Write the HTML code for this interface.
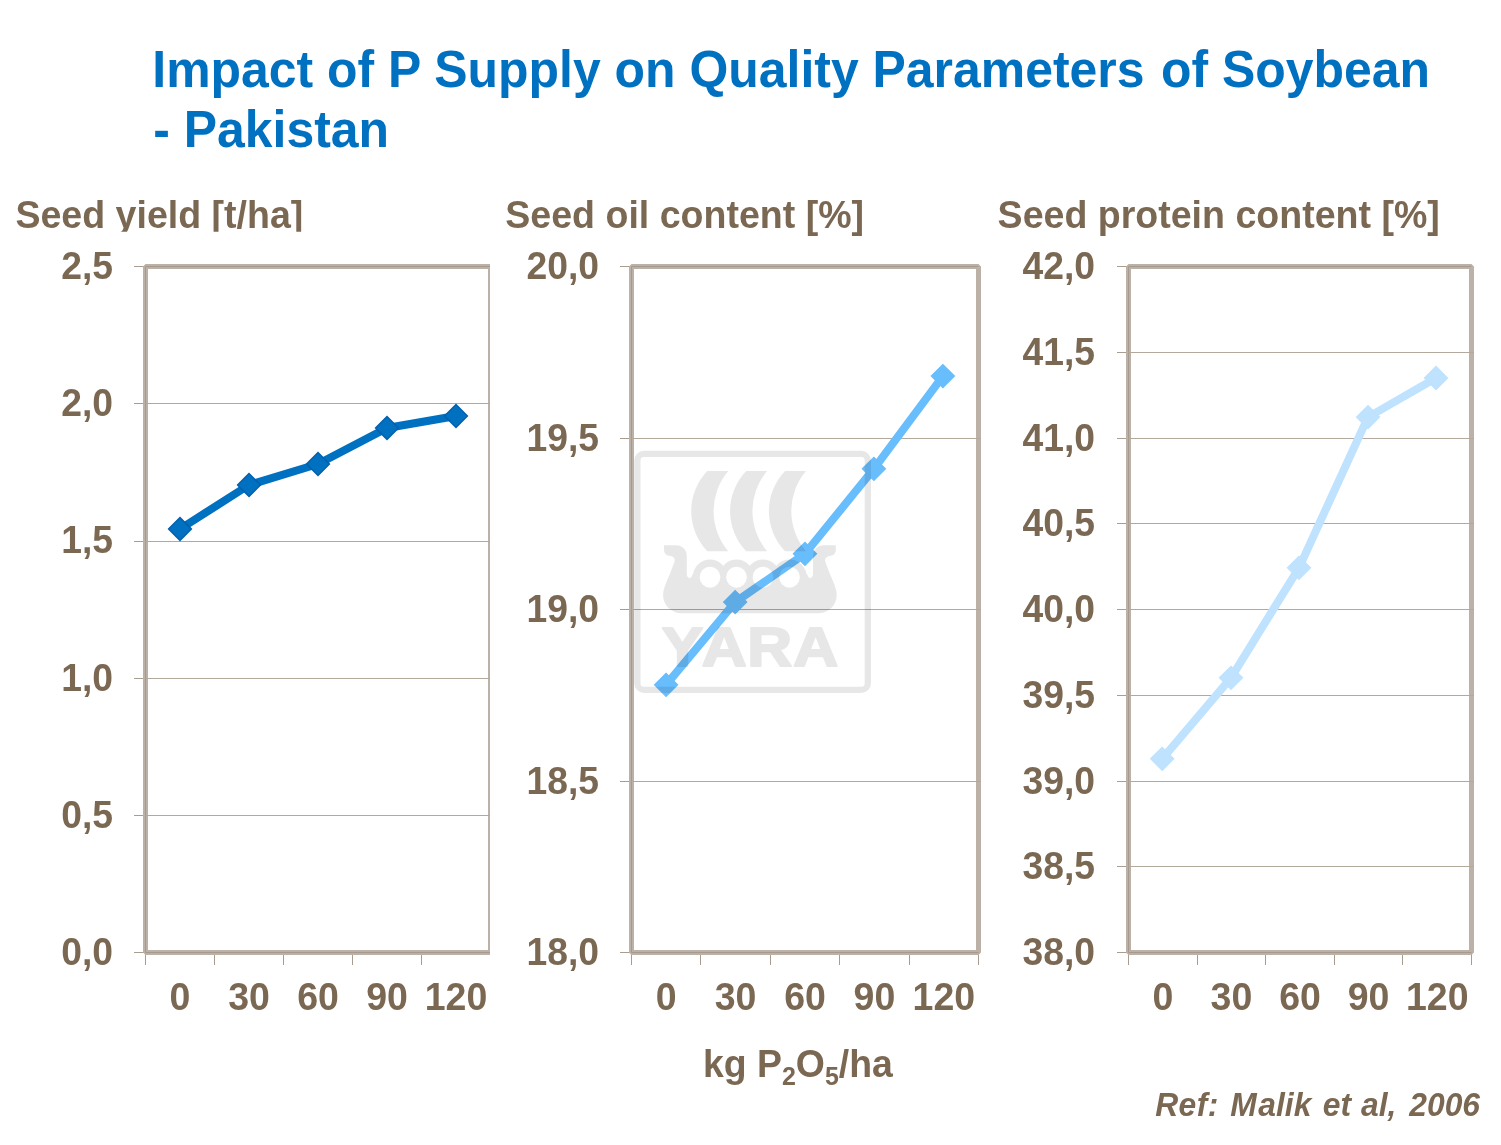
<!DOCTYPE html>
<html lang="en"><head><meta charset="utf-8"><title>Impact of P Supply on Quality Parameters of Soybean - Pakistan</title>
<style>
html,body{margin:0;padding:0;background:#fff;}
body{width:1501px;height:1145px;overflow:hidden;position:relative;font-family:"Liberation Sans", Arial, Helvetica, sans-serif;}
svg{position:absolute;left:0;top:0;display:block}
text{font-family:"Liberation Sans", Arial, Helvetica, sans-serif;font-weight:bold;}
.t{fill:#0070c0;font-size:49.93px}
.h{fill:#7b6853;font-size:37.55px}
.y{fill:#7b6853;font-size:37.3px;text-anchor:end}
.x{fill:#7b6853;font-size:37.5px;text-anchor:middle}
.r{fill:#7b6853;font-size:31.8px;font-style:italic}
</style></head><body>
<svg width="1501" height="1145" viewBox="0 0 1501 1145">
<defs>
<clipPath id="hclip"><rect x="0" y="190" width="1501" height="41.8"/></clipPath>
<clipPath id="c1clip"><rect x="0" y="200" width="490" height="800"/></clipPath>
</defs>
<rect width="1501" height="1145" fill="#fff"/>

<text class="t" transform="translate(152.3,87.3) scale(1,1.025)">Impact of P Supply on Quality Parameters<tspan dx="2.6"> of Soybean</tspan></text>
<text class="t" transform="translate(153.2,146.7) scale(1,1.025)">- Pakistan</text>
<g clip-path="url(#hclip)"><text class="h" transform="translate(15.4,227.8) scale(1,1.025)">Seed yield [t/ha]</text></g>
<g clip-path="url(#c1clip)">
<line x1="134.0" y1="266.5" x2="145.5" y2="266.5" stroke="#a99d90" stroke-width="1"/>
<line x1="134.0" y1="403.5" x2="145.5" y2="403.5" stroke="#a99d90" stroke-width="1"/>
<line x1="134.0" y1="541.5" x2="145.5" y2="541.5" stroke="#a99d90" stroke-width="1"/>
<line x1="134.0" y1="678.5" x2="145.5" y2="678.5" stroke="#a99d90" stroke-width="1"/>
<line x1="134.0" y1="815.5" x2="145.5" y2="815.5" stroke="#a99d90" stroke-width="1"/>
<line x1="134.0" y1="952.5" x2="145.5" y2="952.5" stroke="#a99d90" stroke-width="1"/>
<line x1="145.5" y1="952.5" x2="145.5" y2="965.0" stroke="#a99d90" stroke-width="1"/>
<line x1="214.5" y1="952.5" x2="214.5" y2="965.0" stroke="#a99d90" stroke-width="1"/>
<line x1="283.5" y1="952.5" x2="283.5" y2="965.0" stroke="#a99d90" stroke-width="1"/>
<line x1="352.5" y1="952.5" x2="352.5" y2="965.0" stroke="#a99d90" stroke-width="1"/>
<line x1="421.5" y1="952.5" x2="421.5" y2="965.0" stroke="#a99d90" stroke-width="1"/>
<line x1="490.5" y1="952.5" x2="490.5" y2="965.0" stroke="#a99d90" stroke-width="1"/>
<rect x="145.5" y="266.5" width="345.0" height="686.0" fill="none" stroke="#bcb1a6" stroke-width="5" stroke-linejoin="bevel"/>
<path d="M490.5,266.5 H145.5 V952.5 H490.5" fill="none" stroke="#a69a8e" stroke-width="1"/>
<line x1="145.5" y1="403.5" x2="493.0" y2="403.5" stroke="#b3a89c" stroke-width="1"/>
<line x1="145.5" y1="541.5" x2="493.0" y2="541.5" stroke="#b3a89c" stroke-width="1"/>
<line x1="145.5" y1="678.5" x2="493.0" y2="678.5" stroke="#b3a89c" stroke-width="1"/>
<line x1="145.5" y1="815.5" x2="493.0" y2="815.5" stroke="#b3a89c" stroke-width="1"/>
<g opacity="1"><polyline points="180,529.0 249,485.0 318,464.0 387,428.0 456,416.0" fill="none" stroke="#0070c0" stroke-width="8" stroke-linejoin="round" stroke-linecap="butt"/><path d="M168.5,529.0 L180,517.5 L191.5,529.0 L180,540.5 Z" fill="#0070c0" stroke="#005fae" stroke-width="1.3"/><path d="M237.5,485.0 L249,473.5 L260.5,485.0 L249,496.5 Z" fill="#0070c0" stroke="#005fae" stroke-width="1.3"/><path d="M306.5,464.0 L318,452.5 L329.5,464.0 L318,475.5 Z" fill="#0070c0" stroke="#005fae" stroke-width="1.3"/><path d="M375.5,428.0 L387,416.5 L398.5,428.0 L387,439.5 Z" fill="#0070c0" stroke="#005fae" stroke-width="1.3"/><path d="M444.5,416.0 L456,404.5 L467.5,416.0 L456,427.5 Z" fill="#0070c0" stroke="#005fae" stroke-width="1.3"/></g>
</g>
<text class="y" transform="translate(113,279.0) scale(1,1.045)">2,5</text>
<text class="y" transform="translate(113,416.2) scale(1,1.045)">2,0</text>
<text class="y" transform="translate(113,553.4) scale(1,1.045)">1,5</text>
<text class="y" transform="translate(113,690.6) scale(1,1.045)">1,0</text>
<text class="y" transform="translate(113,827.8) scale(1,1.045)">0,5</text>
<text class="y" transform="translate(113,965.0) scale(1,1.045)">0,0</text>
<text class="x" transform="translate(180.0,1010) scale(1,1.045)">0</text>
<text class="x" transform="translate(249.0,1010) scale(1,1.045)">30</text>
<text class="x" transform="translate(318.0,1010) scale(1,1.045)">60</text>
<text class="x" transform="translate(387.0,1010) scale(1,1.045)">90</text>
<text class="x" transform="translate(456.0,1010) scale(1,1.045)">120</text>
<g><text class="h" transform="translate(505.3,227.8) scale(1,1.025)">Seed oil content [%]</text></g>
<g>
<line x1="620.0" y1="266.5" x2="631.5" y2="266.5" stroke="#a99d90" stroke-width="1"/>
<line x1="620.0" y1="438.5" x2="631.5" y2="438.5" stroke="#a99d90" stroke-width="1"/>
<line x1="620.0" y1="609.5" x2="631.5" y2="609.5" stroke="#a99d90" stroke-width="1"/>
<line x1="620.0" y1="781.5" x2="631.5" y2="781.5" stroke="#a99d90" stroke-width="1"/>
<line x1="620.0" y1="952.5" x2="631.5" y2="952.5" stroke="#a99d90" stroke-width="1"/>
<line x1="631.5" y1="952.5" x2="631.5" y2="965.0" stroke="#a99d90" stroke-width="1"/>
<line x1="700.5" y1="952.5" x2="700.5" y2="965.0" stroke="#a99d90" stroke-width="1"/>
<line x1="770.5" y1="952.5" x2="770.5" y2="965.0" stroke="#a99d90" stroke-width="1"/>
<line x1="839.5" y1="952.5" x2="839.5" y2="965.0" stroke="#a99d90" stroke-width="1"/>
<line x1="909.5" y1="952.5" x2="909.5" y2="965.0" stroke="#a99d90" stroke-width="1"/>
<line x1="978.5" y1="952.5" x2="978.5" y2="965.0" stroke="#a99d90" stroke-width="1"/>
<rect x="631.5" y="266.5" width="347.0" height="686.0" fill="none" stroke="#bcb1a6" stroke-width="5" stroke-linejoin="bevel"/>
<path d="M978.5,266.5 H631.5 V952.5 H978.5" fill="none" stroke="#a69a8e" stroke-width="1"/>
<line x1="631.5" y1="438.5" x2="981.0" y2="438.5" stroke="#b3a89c" stroke-width="1"/>
<line x1="631.5" y1="609.5" x2="981.0" y2="609.5" stroke="#b3a89c" stroke-width="1"/>
<line x1="631.5" y1="781.5" x2="981.0" y2="781.5" stroke="#b3a89c" stroke-width="1"/>
<g opacity="1"><polyline points="666.05,684.85 735.15,602.1 804.95,553.8 873.9,468.8 942.9,376.05" fill="none" stroke="#68bdfd" stroke-width="8" stroke-linejoin="round" stroke-linecap="butt"/><path d="M654.55,684.85 L666.05,673.35 L677.55,684.85 L666.05,696.35 Z" fill="#68bdfd" stroke="#68bdfd" stroke-width="1.3"/><path d="M723.65,602.1 L735.15,590.6 L746.65,602.1 L735.15,613.6 Z" fill="#68bdfd" stroke="#68bdfd" stroke-width="1.3"/><path d="M793.45,553.8 L804.95,542.3 L816.45,553.8 L804.95,565.3 Z" fill="#68bdfd" stroke="#68bdfd" stroke-width="1.3"/><path d="M862.4,468.8 L873.9,457.3 L885.4,468.8 L873.9,480.3 Z" fill="#68bdfd" stroke="#68bdfd" stroke-width="1.3"/><path d="M931.4,376.05 L942.9,364.55 L954.4,376.05 L942.9,387.55 Z" fill="#68bdfd" stroke="#68bdfd" stroke-width="1.3"/></g>
</g>
<text class="y" transform="translate(599,279.0) scale(1,1.045)">20,0</text>
<text class="y" transform="translate(599,450.5) scale(1,1.045)">19,5</text>
<text class="y" transform="translate(599,622.0) scale(1,1.045)">19,0</text>
<text class="y" transform="translate(599,793.5) scale(1,1.045)">18,5</text>
<text class="y" transform="translate(599,965.0) scale(1,1.045)">18,0</text>
<text class="x" transform="translate(666.2,1010) scale(1,1.045)">0</text>
<text class="x" transform="translate(735.6,1010) scale(1,1.045)">30</text>
<text class="x" transform="translate(805.0,1010) scale(1,1.045)">60</text>
<text class="x" transform="translate(874.4,1010) scale(1,1.045)">90</text>
<text class="x" transform="translate(943.8,1010) scale(1,1.045)">120</text>
<g><text class="h" transform="translate(997.6,227.8) scale(1,1.025)">Seed protein content [%]</text></g>
<g>
<line x1="1117.0" y1="266.5" x2="1128.5" y2="266.5" stroke="#a99d90" stroke-width="1"/>
<line x1="1117.0" y1="352.5" x2="1128.5" y2="352.5" stroke="#a99d90" stroke-width="1"/>
<line x1="1117.0" y1="438.5" x2="1128.5" y2="438.5" stroke="#a99d90" stroke-width="1"/>
<line x1="1117.0" y1="523.5" x2="1128.5" y2="523.5" stroke="#a99d90" stroke-width="1"/>
<line x1="1117.0" y1="609.5" x2="1128.5" y2="609.5" stroke="#a99d90" stroke-width="1"/>
<line x1="1117.0" y1="695.5" x2="1128.5" y2="695.5" stroke="#a99d90" stroke-width="1"/>
<line x1="1117.0" y1="781.5" x2="1128.5" y2="781.5" stroke="#a99d90" stroke-width="1"/>
<line x1="1117.0" y1="866.5" x2="1128.5" y2="866.5" stroke="#a99d90" stroke-width="1"/>
<line x1="1117.0" y1="952.5" x2="1128.5" y2="952.5" stroke="#a99d90" stroke-width="1"/>
<line x1="1128.5" y1="952.5" x2="1128.5" y2="965.0" stroke="#a99d90" stroke-width="1"/>
<line x1="1197.5" y1="952.5" x2="1197.5" y2="965.0" stroke="#a99d90" stroke-width="1"/>
<line x1="1265.5" y1="952.5" x2="1265.5" y2="965.0" stroke="#a99d90" stroke-width="1"/>
<line x1="1334.5" y1="952.5" x2="1334.5" y2="965.0" stroke="#a99d90" stroke-width="1"/>
<line x1="1402.5" y1="952.5" x2="1402.5" y2="965.0" stroke="#a99d90" stroke-width="1"/>
<line x1="1471.5" y1="952.5" x2="1471.5" y2="965.0" stroke="#a99d90" stroke-width="1"/>
<rect x="1128.5" y="266.5" width="343.0" height="686.0" fill="none" stroke="#bcb1a6" stroke-width="5" stroke-linejoin="bevel"/>
<path d="M1471.5,266.5 H1128.5 V952.5 H1471.5" fill="none" stroke="#a69a8e" stroke-width="1"/>
<line x1="1128.5" y1="352.5" x2="1474.0" y2="352.5" stroke="#b3a89c" stroke-width="1"/>
<line x1="1128.5" y1="438.5" x2="1474.0" y2="438.5" stroke="#b3a89c" stroke-width="1"/>
<line x1="1128.5" y1="523.5" x2="1474.0" y2="523.5" stroke="#b3a89c" stroke-width="1"/>
<line x1="1128.5" y1="609.5" x2="1474.0" y2="609.5" stroke="#b3a89c" stroke-width="1"/>
<line x1="1128.5" y1="695.5" x2="1474.0" y2="695.5" stroke="#b3a89c" stroke-width="1"/>
<line x1="1128.5" y1="781.5" x2="1474.0" y2="781.5" stroke="#b3a89c" stroke-width="1"/>
<line x1="1128.5" y1="866.5" x2="1474.0" y2="866.5" stroke="#b3a89c" stroke-width="1"/>
<g opacity="1"><polyline points="1162.2,758.8 1231,677.8 1299,567.8 1368,417.1 1436,378" fill="none" stroke="#bfe2fe" stroke-width="8" stroke-linejoin="round" stroke-linecap="butt"/><path d="M1150.7,758.8 L1162.2,747.3 L1173.7,758.8 L1162.2,770.3 Z" fill="#bfe2fe" stroke="#bfe2fe" stroke-width="1.3"/><path d="M1219.5,677.8 L1231,666.3 L1242.5,677.8 L1231,689.3 Z" fill="#bfe2fe" stroke="#bfe2fe" stroke-width="1.3"/><path d="M1287.5,567.8 L1299,556.3 L1310.5,567.8 L1299,579.3 Z" fill="#bfe2fe" stroke="#bfe2fe" stroke-width="1.3"/><path d="M1356.5,417.1 L1368,405.6 L1379.5,417.1 L1368,428.6 Z" fill="#bfe2fe" stroke="#bfe2fe" stroke-width="1.3"/><path d="M1424.5,378 L1436,366.5 L1447.5,378 L1436,389.5 Z" fill="#bfe2fe" stroke="#bfe2fe" stroke-width="1.3"/></g>
</g>
<text class="y" transform="translate(1095,279.0) scale(1,1.045)">42,0</text>
<text class="y" transform="translate(1095,364.75) scale(1,1.045)">41,5</text>
<text class="y" transform="translate(1095,450.5) scale(1,1.045)">41,0</text>
<text class="y" transform="translate(1095,536.25) scale(1,1.045)">40,5</text>
<text class="y" transform="translate(1095,622.0) scale(1,1.045)">40,0</text>
<text class="y" transform="translate(1095,707.75) scale(1,1.045)">39,5</text>
<text class="y" transform="translate(1095,793.5) scale(1,1.045)">39,0</text>
<text class="y" transform="translate(1095,879.25) scale(1,1.045)">38,5</text>
<text class="y" transform="translate(1095,965.0) scale(1,1.045)">38,0</text>
<text class="x" transform="translate(1162.8,1010) scale(1,1.045)">0</text>
<text class="x" transform="translate(1231.4,1010) scale(1,1.045)">30</text>
<text class="x" transform="translate(1300.0,1010) scale(1,1.045)">60</text>
<text class="x" transform="translate(1368.6,1010) scale(1,1.045)">90</text>
<text class="x" transform="translate(1437.2,1010) scale(1,1.045)">120</text>
<mask id="holes" maskUnits="userSpaceOnUse" x="600" y="430" width="300" height="300"><rect x="600" y="430" width="300" height="300" fill="#fff"/><ellipse cx="710.0" cy="577.2" rx="10.3" ry="10.5" fill="#000"/><ellipse cx="736.5" cy="577.2" rx="10.3" ry="10.5" fill="#000"/><ellipse cx="763.0" cy="577.2" rx="10.3" ry="10.5" fill="#000"/><ellipse cx="789.5" cy="577.2" rx="10.3" ry="10.5" fill="#000"/></mask>
<g id="yara" fill="#000" opacity="0.09" mask="url(#holes)">
<rect x="637.35" y="453.95" width="230.5" height="235.9" rx="6.5" ry="6.7" fill="none" stroke="#000" stroke-width="6.3"/>
<path d="M707.3,470.9 A58.1,58.1 0 0 0 707.3,551.2 L728.3,551.2 A62.2,62.2 0 0 1 728.3,470.9 Z" transform="translate(0.00,0)"/>
<path d="M707.3,470.9 A58.1,58.1 0 0 0 707.3,551.2 L728.3,551.2 A62.2,62.2 0 0 1 728.3,470.9 Z" transform="translate(38.85,0)"/>
<path d="M707.3,470.9 A58.1,58.1 0 0 0 707.3,551.2 L728.3,551.2 A62.2,62.2 0 0 1 728.3,470.9 Z" transform="translate(77.70,0)"/>
<path d="M750.6,613.3 L680.9,613.3 C677,613.3 673.5,611.6 670.7,609.7 C668.3,608.2 666.6,606 665.2,603.4 C663.8,601 663.1,598 663.1,594.7 C663.1,592 663.8,589 665.2,585.3 C666.5,581.5 668.5,577 670.7,572 C672,568 674.2,563.5 674.7,560.6 C675,558 672.8,556.2 669.2,555.8 C666,555.4 664,553.5 664,550 L664,545.2 L676.1,545.2 A10.7,10.7 0 0 1 686.8,555.9 L686.8,573 C686.8,576.5 688,577.9 689.6,577.9 C691,577.9 692,576.5 692.4,574.5 L750.6,574.5 Z"/>
<path d="M750.6,613.3 L680.9,613.3 C677,613.3 673.5,611.6 670.7,609.7 C668.3,608.2 666.6,606 665.2,603.4 C663.8,601 663.1,598 663.1,594.7 C663.1,592 663.8,589 665.2,585.3 C666.5,581.5 668.5,577 670.7,572 C672,568 674.2,563.5 674.7,560.6 C675,558 672.8,556.2 669.2,555.8 C666,555.4 664,553.5 664,550 L664,545.2 L676.1,545.2 A10.7,10.7 0 0 1 686.8,555.9 L686.8,573 C686.8,576.5 688,577.9 689.6,577.9 C691,577.9 692,576.5 692.4,574.5 L750.6,574.5 Z" transform="translate(1499.8,0) scale(-1,1)"/>
<ellipse cx="710.0" cy="577.2" rx="17.4" ry="17.7"/>
<ellipse cx="736.5" cy="577.2" rx="17.4" ry="17.7"/>
<ellipse cx="763.0" cy="577.2" rx="17.4" ry="17.7"/>
<ellipse cx="789.5" cy="577.2" rx="17.4" ry="17.7"/>
<text x="-1.2 34.2 74.5 115.3" transform="translate(663,666.2) scale(1.13,1.012)" style="font-size:55px;font-weight:bold" stroke="#000" stroke-width="2.2" stroke-linejoin="round">YARA</text>
</g>
<text class="h" transform="translate(703,1076.6) scale(1,1.03)" style="font-size:37.4px">kg P<tspan dy="7.7" style="font-size:25px">2</tspan><tspan dy="-7.7">O</tspan><tspan dy="7.7" style="font-size:25px">5</tspan><tspan dy="-7.7">/ha</tspan></text>
<text class="r" transform="translate(1155.2,1116.4) scale(1,1.03)"><tspan style="letter-spacing:0.45px">Ref:</tspan><tspan dx="2.6"> M</tspan><tspan dx="1.6">alik</tspan><tspan dx="2.6"> et</tspan><tspan dx="1.2"> al,</tspan><tspan dx="4.1"> 2006</tspan></text>
</svg></body></html>
